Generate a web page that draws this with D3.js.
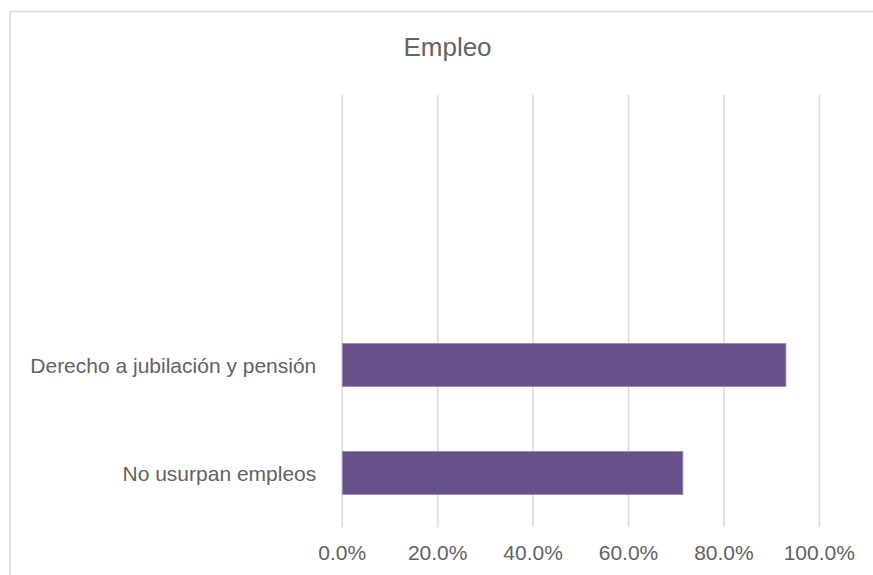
<!DOCTYPE html>
<html>
<head>
<meta charset="utf-8">
<script src="https://cdn.jsdelivr.net/npm/d3@7"></script>
<style>
  body { margin: 0; background: #fff; }
  text { font-family: "Liberation Sans", Arial, sans-serif; fill: #626262; }
</style>
</head>
<body>
<svg id="chart" width="873" height="575"></svg>
<script>
// chart data (two empty category slots at the top, as in the source sheet)
const categories = ["", "", "Derecho a jubilación y pensión", "No usurpan empleos"];
const values = [null, null, 0.93, 0.714];
const ticks = [0, 0.2, 0.4, 0.6, 0.8, 1.0];
const title = "Empleo";

const svg = d3.select("#chart");

// chart area border
svg.append("rect")
    .attr("x", 10).attr("y", 11.5)
    .attr("width", 900).attr("height", 600)
    .attr("fill", "#fff")
    .attr("stroke", "#d9d9d9")
    .attr("stroke-width", 1.5);

const plot = { left: 342.3, right: 819.3, top: 95, bottom: 527 };

const x = d3.scaleLinear().domain([0, 1]).range([plot.left, plot.right]);
const y = d3.scaleBand().domain(categories.map((c, i) => i))
    .range([plot.top, plot.bottom]).paddingInner(0.6).paddingOuter(0.3);

// gridlines
svg.append("g")
    .selectAll("line")
    .data(ticks)
    .join("line")
    .attr("x1", d => x(d)).attr("x2", d => x(d))
    .attr("y1", plot.top).attr("y2", plot.bottom)
    .attr("stroke", "#d9d9d9")
    .attr("stroke-width", 1.5);

// bars
svg.append("g")
    .selectAll("rect")
    .data(values.map((v, i) => ({ v, i })).filter(d => d.v != null))
    .join("rect")
    .attr("x", x(0))
    .attr("y", d => y(d.i))
    .attr("width", d => x(d.v) - x(0))
    .attr("height", y.bandwidth())
    .attr("fill", "#68508a")
    .attr("stroke", "#9c8bb3")
    .attr("stroke-width", 0.8);

// category labels
svg.append("g")
    .selectAll("text")
    .data(categories.map((c, i) => ({ c, i })))
    .join("text")
    .attr("x", plot.left - 26)
    .attr("y", d => y(d.i) + y.bandwidth() / 2)
    .attr("dy", "0.36em")
    .attr("text-anchor", "end")
    .style("font-size", "21px")
    .text(d => d.c);

// x tick labels
const fmt = d3.format(".1%");
svg.append("g")
    .selectAll("text")
    .data(ticks)
    .join("text")
    .attr("x", d => x(d))
    .attr("y", 560)
    .attr("text-anchor", "middle")
    .style("font-size", "21px")
    .text(d => fmt(d));

// title
svg.append("text")
    .attr("x", 447.5)
    .attr("y", 56)
    .attr("text-anchor", "middle")
    .style("font-size", "26px")
    .text(title);
</script>
</body>
</html>
